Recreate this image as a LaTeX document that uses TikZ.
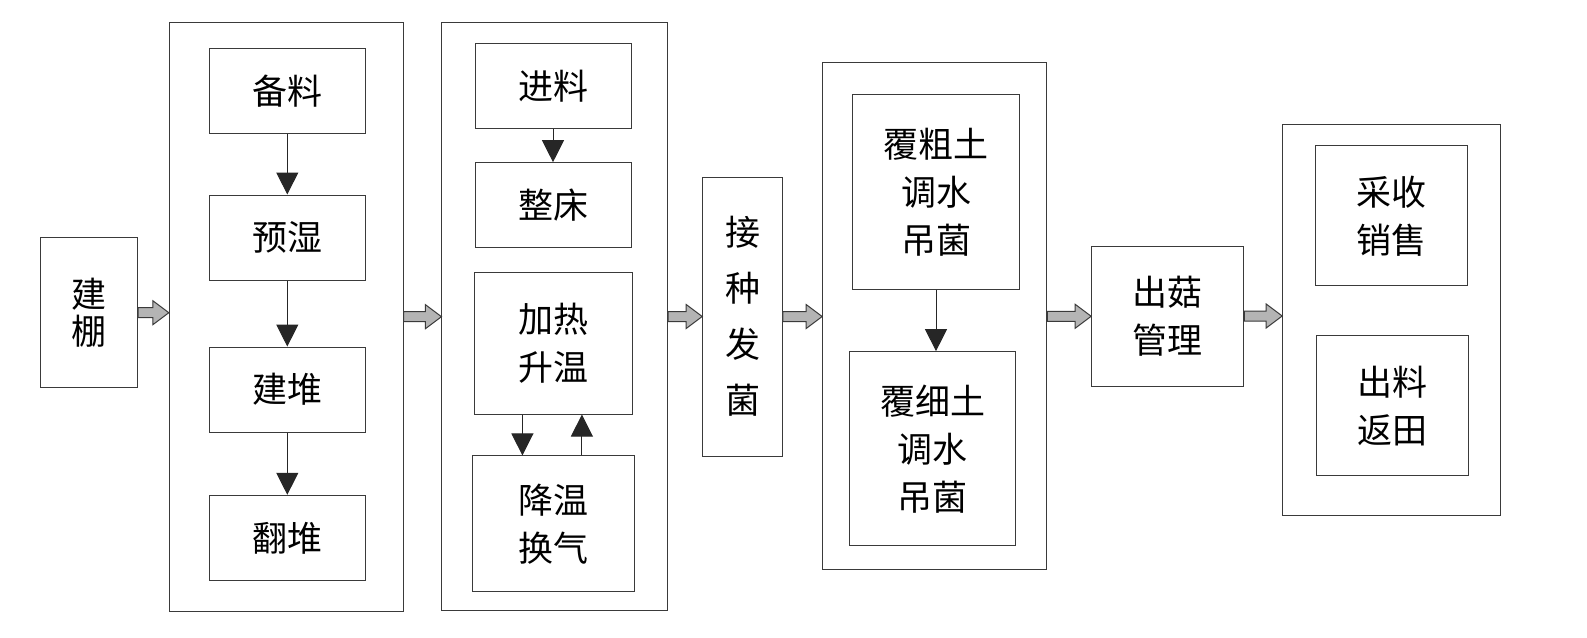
\documentclass[tikz,border=0pt]{standalone}
\usepackage{fontspec}
\setmainfont{Noto Sans CJK SC}
\usetikzlibrary{arrows.meta,calc}
\definecolor{edge}{HTML}{3A3A3A}
\definecolor{bfill}{HTML}{B4B4B4}
\tikzset{
  box/.style={draw=edge, line width=1pt, fill=white, inner sep=0pt, align=center,
    font=\fontsize{35}{48}\selectfont},
  grp/.style={draw=edge, line width=1pt, inner sep=0pt},
  arr/.style={draw=black!85, line width=1pt, -{Triangle[length=22pt,width=22pt]}},
  barrowstyle/.style={draw=edge, fill=bfill, line width=1pt, line join=miter}
}
\newcommand\blockarrow[2]{%
  \path[barrowstyle] let \p1=(#1.east), \p2=(#2.west) in
    (\x1,\y1+5pt) -- (\x2-16pt,\y1+5pt) -- (\x2-16pt,\y1+12pt) -- (\x2,\y1)
    -- (\x2-16pt,\y1-12pt) -- (\x2-16pt,\y1-5pt) -- (\x1,\y1-5pt) -- cycle;}
\begin{document}
\begin{tikzpicture}[x=1pt,y=-1pt]
\useasboundingbox (0,0) rectangle (1587,637);
% groups
\node[grp, minimum width=233.7pt, minimum height=588.7pt] (g1) at (286.2,316.7) {};
\node[grp, minimum width=225.7pt, minimum height=587.5pt] (g2) at (554.8,316.5) {};
\node[grp, minimum width=224.3pt, minimum height=507.3pt] (g3) at (934.8,316.3) {};
\node[grp, minimum width=218pt, minimum height=391.3pt] (g4) at (1391.7,319.7) {};
% single boxes
\node[box, minimum width=97pt, minimum height=150pt, font=\fontsize{35}{37}\selectfont] (jp) at (89.2,312.7) {建\\棚};
\node[box, minimum width=79.6pt, minimum height=279pt, font=\fontsize{35}{56}\selectfont] (jz) at (742.5,316.5) {接\\种\\发\\菌};
\node[box, minimum width=152.3pt, minimum height=140pt] (cg) at (1167.8,316) {出菇\\管理};
% group 1
\node[box, minimum width=156pt, minimum height=85.3pt] (bl) at (287.3,91.3) {备料};
\node[box, minimum width=156pt, minimum height=85pt] (ys) at (287.3,237.5) {预湿};
\node[box, minimum width=156pt, minimum height=85.3pt] (jd) at (287.3,389.7) {建堆};
\node[box, minimum width=156pt, minimum height=85.4pt] (fd) at (287.3,538) {翻堆};
% group 2
\node[box, minimum width=156pt, minimum height=85pt] (jl) at (553,85.8) {进料};
\node[box, minimum width=156pt, minimum height=85pt] (zc) at (553,205.2) {整床};
\node[box, minimum width=157.7pt, minimum height=141.3pt] (jr) at (553.2,343.4) {加热\\升温};
\node[box, minimum width=162pt, minimum height=135.7pt] (jw) at (553,523.8) {降温\\换气};
% group 3
\node[box, minimum width=166.6pt, minimum height=194.6pt] (fc) at (936,192) {覆粗土\\调水\\吊菌};
\node[box, minimum width=166.4pt, minimum height=194.3pt] (fx) at (932.5,448.8) {覆细土\\调水\\吊菌};
% group 4
\node[box, minimum width=152.3pt, minimum height=139.7pt] (cs) at (1391.2,215.8) {采收\\销售};
\node[box, minimum width=152.3pt, minimum height=140pt] (cl) at (1392.8,405.7) {出料\\返田};
% inner arrows
\draw[arr] (bl.south) -- (ys.north);
\draw[arr] (ys.south) -- (jd.north);
\draw[arr] (jd.south) -- (fd.north);
\draw[arr] (jl.south) -- (jl.south |- zc.north);
\draw[arr] ([xshift=-30.8pt]jr.south) -- ([xshift=-30.8pt]jr.south |- jw.north);
\draw[arr] ([xshift=28.7pt]jr.south |- jw.north) -- ([xshift=28.7pt]jr.south);
\draw[arr] (fc.south) -- (fc.south |- fx.north);
% block arrows
\blockarrow{jp}{g1}
\blockarrow{g1}{g2}
\blockarrow{g2}{jz}
\blockarrow{jz}{g3}
\blockarrow{g3}{cg}
\blockarrow{cg}{g4}
\end{tikzpicture}
\end{document}
